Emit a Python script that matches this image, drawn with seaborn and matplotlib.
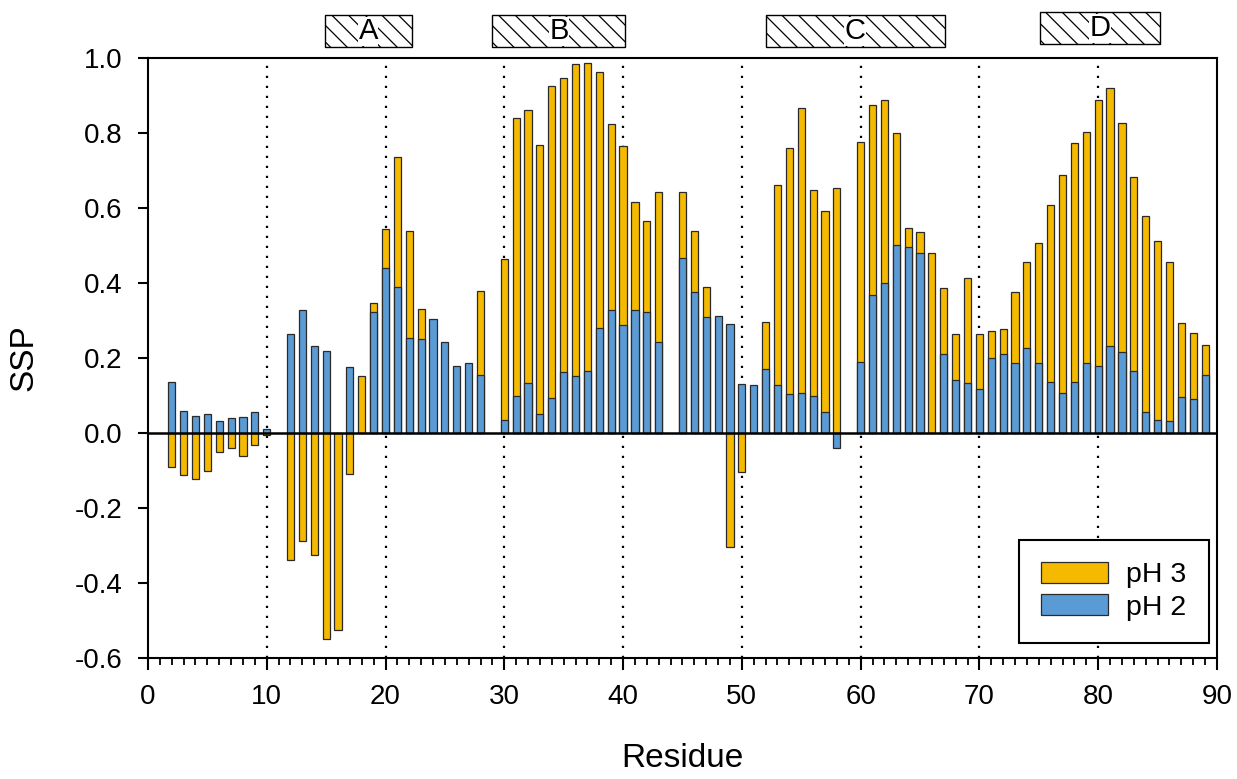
import numpy as np
import pandas as pd
import matplotlib
matplotlib.use("Agg")
import matplotlib.pyplot as plt
import matplotlib.transforms as mtransforms
from matplotlib.patches import Patch, Rectangle
from matplotlib.ticker import MultipleLocator, StrMethodFormatter
import seaborn as sns

nan = np.nan
residues = list(range(2, 90))
ph3 = [-0.090, -0.111, -0.122, -0.100, -0.050, -0.041, -0.062, -0.031, -0.005, nan,   # 2-11
       -0.338, -0.287, -0.326, -0.549, -0.524, -0.110, 0.152, 0.348, 0.544, 0.735,    # 12-21
       0.538, 0.330, nan, nan, nan, nan, 0.378, nan, 0.463, 0.840,                    # 22-31
       0.862, 0.769, 0.925, 0.946, 0.984, 0.986, 0.964, 0.823, 0.765, 0.615,          # 32-41
       0.565, 0.643, nan, 0.643, 0.540, 0.390, nan, -0.304, -0.105, nan,              # 42-51
       0.296, 0.661, 0.761, 0.868, 0.649, 0.592, 0.654, nan, 0.776, 0.876,            # 52-61
       0.888, 0.799, 0.546, 0.537, 0.480, 0.388, 0.263, 0.414, 0.265, 0.273,          # 62-71
       0.278, 0.376, 0.456, 0.506, 0.607, 0.688, 0.774, 0.803, 0.887, 0.919,          # 72-81
       0.827, 0.684, 0.580, 0.511, 0.456, 0.293, 0.266, 0.234]                        # 82-89
ph2 = [0.137, 0.058, 0.045, 0.052, 0.031, 0.041, 0.042, 0.057, 0.010, nan,            # 2-11
       0.264, 0.327, 0.233, 0.218, nan, 0.177, nan, 0.322, 0.440, 0.390,              # 12-21
       0.254, 0.250, 0.304, 0.244, 0.180, 0.187, 0.155, nan, 0.034, 0.098,            # 22-31
       0.134, 0.052, 0.094, 0.164, 0.153, 0.165, 0.281, 0.327, 0.289, 0.329,          # 32-41
       0.324, 0.242, nan, 0.468, 0.377, 0.309, 0.312, 0.291, 0.132, 0.127,            # 42-51
       0.170, 0.128, 0.104, 0.107, 0.098, 0.055, -0.041, nan, 0.189, 0.369,           # 52-61
       0.400, 0.501, 0.497, 0.480, nan, 0.212, 0.142, 0.134, 0.118, 0.201,            # 62-71
       0.210, 0.187, 0.228, 0.188, 0.137, 0.107, 0.137, 0.187, 0.179, 0.232,          # 72-81
       0.215, 0.165, 0.055, 0.034, 0.032, 0.097, 0.090, 0.154]                        # 82-89

series_labels = ["pH 3", "pH 2"]
region_labels = ["A", "B", "C", "D"]
region_start = [14.9, 29.0, 52.0, 75.1]
region_end = [22.2, 40.2, 67.1, 85.2]
guide_lines = [10, 20, 30, 40, 50, 60, 70, 80]

YELLOW = "#F5B900"
BLUE = "#5B9BD5"
EDGE = "#2a2a2a"

sns.set_style("ticks")
plt.rcParams["font.family"] = ["Liberation Sans", "DejaVu Sans"]
plt.rcParams["axes.unicode_minus"] = False
plt.rcParams["hatch.linewidth"] = 0.9
for k in ["text.color", "axes.labelcolor", "xtick.color", "ytick.color", "axes.edgecolor"]:
    plt.rcParams[k] = "black"

fig, ax = plt.subplots(figsize=(12.37, 7.79), dpi=100)
fig.subplots_adjust(left=0.1196, right=0.9838, top=0.9255, bottom=0.1553)

df3 = pd.DataFrame({"Residue": residues, "SSP": ph3}).dropna()
df2 = pd.DataFrame({"Residue": residues, "SSP": ph2}).dropna()

for x in guide_lines:
    ax.axvline(x, color="black", lw=1.6, ls=(0, (1, 3.5)), zorder=0)

sns.barplot(data=df3, x="Residue", y="SSP", native_scale=True, width=0.6,
            color=YELLOW, saturation=1, errorbar=None, edgecolor=EDGE,
            linewidth=0.9, ax=ax, zorder=2)
sns.barplot(data=df2, x="Residue", y="SSP", native_scale=True, width=0.6,
            color=BLUE, saturation=1, errorbar=None, edgecolor=EDGE,
            linewidth=0.9, ax=ax, zorder=2.1)

ax.axhline(0, color="black", lw=1.8, zorder=3)

ax.set_xlim(0, 90)
ax.set_ylim(-0.6, 1.0)
ax.xaxis.set_major_locator(MultipleLocator(10))
ax.xaxis.set_minor_locator(MultipleLocator(1))
ax.yaxis.set_major_locator(MultipleLocator(0.2))
ax.yaxis.set_major_formatter(StrMethodFormatter("{x:.1f}"))
ax.tick_params(axis="x", which="major", length=8.6, width=1.5, labelsize=20, pad=10, color="black", labelcolor="black")
ax.tick_params(axis="x", which="minor", length=5, width=1.3, color="black")
ax.tick_params(axis="y", which="major", length=7.5, width=1.5, labelsize=20, pad=11, color="black", labelcolor="black")
for s in ax.spines.values():
    s.set_visible(True)
    s.set_linewidth(1.5)
    s.set_color("black")

ax.set_xlabel("Residue", fontsize=24, labelpad=24, color="black")
ax.set_ylabel("SSP", fontsize=24, labelpad=25, color="black")

# Legend
handles = [Patch(facecolor=YELLOW, edgecolor=EDGE, linewidth=0.9),
           Patch(facecolor=BLUE, edgecolor=EDGE, linewidth=0.9)]
leg = ax.legend(handles, series_labels, loc="lower right",
                bbox_to_anchor=(0.9925, 0.025), borderaxespad=0,
                fontsize=20.5, frameon=True, fancybox=False,
                handlelength=2.35, handleheight=0.75, handletextpad=0.65,
                labelspacing=0.22, borderpad=0.78)
leg.get_frame().set_edgecolor("black")
leg.get_frame().set_linewidth(1.5)
leg.get_frame().set_alpha(1)
for t in leg.get_texts():
    t.set_color("black")

# Region boxes above the axes
trans = mtransforms.blended_transform_factory(ax.transData, ax.transAxes)
for lab, x0, x1 in zip(region_labels, region_start, region_end):
    yb = 1.023 if lab == "D" else 1.018
    h = 0.053
    rect = Rectangle((x0, yb), x1 - x0, h, transform=trans, clip_on=False,
                     facecolor="white", edgecolor="black", linewidth=1.0,
                     hatch="\\\\", zorder=5)
    ax.add_patch(rect)
    ax.text((x0 + x1) / 2, yb + h / 2, lab, transform=trans, ha="center",
            va="center", fontsize=21, zorder=6, clip_on=False, color="black",
            bbox=dict(facecolor="white", edgecolor="none", pad=0.3))

fig.savefig("out.png", dpi=100)
